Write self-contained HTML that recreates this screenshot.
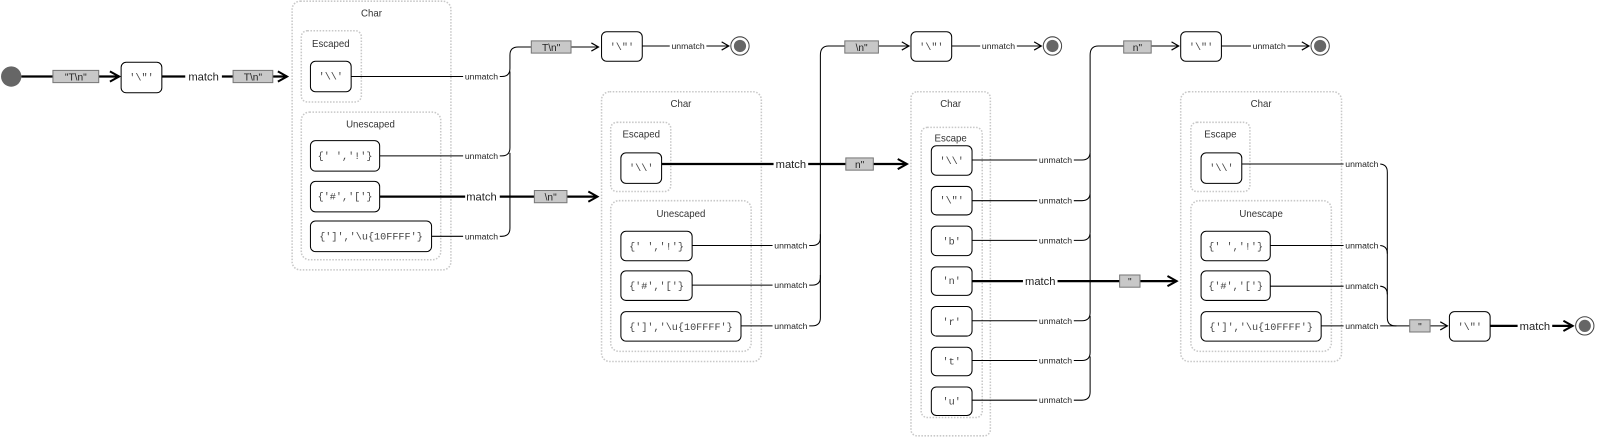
<!DOCTYPE html>
<html><head><meta charset="utf-8"><style>
html,body{margin:0;padding:0;background:#fff;}
svg{display:block;}
.n{fill:#fff;stroke:#000;stroke-width:1;}
.nt{font-family:"Liberation Mono",monospace;font-size:10px;fill:#444;text-anchor:middle;}
.c{fill:none;stroke:#c8c8c8;stroke-width:1.5;stroke-dasharray:1.5,1.5;}
.ct{font-family:"Liberation Sans",sans-serif;font-size:9.5px;fill:#333;text-anchor:middle;}
.t{fill:none;stroke:#000;stroke-width:1;}
.k{fill:none;stroke:#000;stroke-width:2.2;}
.u{font-family:"Liberation Sans",sans-serif;font-size:8.5px;fill:#222;text-anchor:middle;}
.m{font-family:"Liberation Sans",sans-serif;font-size:11px;fill:#222;text-anchor:middle;}
.lb{fill:#c8c8c8;stroke:#777;stroke-width:1;}
.lt{font-family:"Liberation Sans",sans-serif;font-size:10px;fill:#222;text-anchor:middle;}
.w{fill:#fff;}
</style></head><body>
<svg width="1597" height="437" viewBox="0 0 1569 429" xmlns="http://www.w3.org/2000/svg">
<defs>
<marker id="a" markerWidth="10" markerHeight="10" refX="8" refY="5" orient="auto" markerUnits="userSpaceOnUse"><path d="M1,1 L8,5 L1,9" fill="none" stroke="#000" stroke-width="1.2"/></marker>
<marker id="b" markerWidth="12" markerHeight="12" refX="10" refY="6" orient="auto" markerUnits="userSpaceOnUse"><path d="M1,1 L10,6 L1,11" fill="none" stroke="#000" stroke-width="2"/></marker>
</defs>

<!-- containers -->
<rect class="c" x="287" y="1" width="156" height="264" rx="8"/><text class="ct" x="365" y="16">Char</text>
<rect class="c" x="296" y="30" width="59" height="70" rx="6"/><text class="ct" x="325" y="46">Escaped</text>
<rect class="c" x="296" y="110" width="137" height="145" rx="8"/><text class="ct" x="364" y="125">Unescaped</text>

<rect class="c" x="591" y="90" width="157" height="265" rx="8"/><text class="ct" x="669" y="105">Char</text>
<rect class="c" x="600" y="120" width="59" height="68" rx="6"/><text class="ct" x="630" y="135">Escaped</text>
<rect class="c" x="600" y="197" width="138" height="148" rx="8"/><text class="ct" x="669" y="213">Unescaped</text>

<rect class="c" x="895" y="90" width="78" height="338" rx="6"/><text class="ct" x="934" y="105">Char</text>
<rect class="c" x="905" y="125" width="60" height="285" rx="6"/><text class="ct" x="934" y="139">Escape</text>

<rect class="c" x="1160" y="90" width="158" height="265" rx="8"/><text class="ct" x="1239" y="105">Char</text>
<rect class="c" x="1170" y="120" width="58" height="68" rx="6"/><text class="ct" x="1199" y="135">Escape</text>
<rect class="c" x="1170" y="197" width="138" height="148" rx="8"/><text class="ct" x="1239" y="213">Unescape</text>

<!-- start -->
<circle cx="11" cy="75" r="10" fill="#666"/>
<path class="k" d="M21,75 H117" marker-end="url(#b)"/>
<rect class="lb" x="52" y="69" width="45" height="12"/><text class="lt" x="74.5" y="79">"T\n"</text>
<rect class="n" x="119" y="61" width="40" height="30" rx="5"/><text class="nt" x="139" y="79">'\"'</text>
<path class="k" d="M159,75 H282" marker-end="url(#b)"/>
<rect class="w" x="182" y="68" width="36" height="14"/><text class="m" x="200" y="79">match</text>
<rect class="lb" x="229" y="69" width="39" height="12"/><text class="lt" x="248.5" y="79">T\n"</text>

<!-- char1 nodes -->
<rect class="n" x="305" y="60" width="40" height="30" rx="5"/><text class="nt" x="325" y="78">'\\'</text>
<rect class="n" x="305" y="138" width="68" height="30" rx="5"/><text class="nt" x="339" y="156">{' ','!'}</text>
<rect class="n" x="305" y="178" width="68" height="30" rx="5"/><text class="nt" x="339" y="196">{'#','['}</text>
<rect class="n" x="305" y="217" width="119" height="30" rx="5"/><text class="nt" x="364.5" y="235">{']','\u{10FFFF'}</text>

<path class="t" d="M345,75 H493 Q501,75 501,67 V54 Q501,46 509,46 H588" marker-end="url(#a)"/>
<path class="t" d="M373,153 H493 Q501,153 501,145 V70"/>
<path class="t" d="M424,232 H493 Q501,232 501,224 V150"/>
<rect class="w" x="455" y="69" width="36" height="12"/><text class="u" x="473" y="78">unmatch</text>
<rect class="w" x="455" y="147" width="36" height="12"/><text class="u" x="473" y="156">unmatch</text>
<rect class="w" x="455" y="226" width="36" height="12"/><text class="u" x="473" y="235">unmatch</text>
<rect class="lb" x="522" y="40" width="39" height="12"/><text class="lt" x="541.5" y="50">T\n"</text>
<path class="k" d="M373,193 H587" marker-end="url(#b)"/>
<rect class="w" x="457" y="186" width="34" height="14"/><text class="m" x="473" y="197">match</text>
<rect class="lb" x="525" y="187" width="32" height="12"/><text class="lt" x="541" y="197">\n"</text>

<rect class="n" x="591" y="31" width="40" height="29" rx="5"/><text class="nt" x="611" y="49">'\"'</text>
<path class="t" d="M631,45 H716" marker-end="url(#a)"/>
<rect class="w" x="658" y="39" width="36" height="12"/><text class="u" x="676" y="48">unmatch</text>
<circle cx="727" cy="45" r="9" fill="#fff" stroke="#444"/><circle cx="727" cy="45" r="6" fill="#666"/>

<!-- char2 nodes -->
<rect class="n" x="610" y="150" width="40" height="30" rx="5"/><text class="nt" x="630" y="168">'\\'</text>
<rect class="n" x="610" y="227" width="70" height="29" rx="5"/><text class="nt" x="645" y="245">{' ','!'}</text>
<rect class="n" x="610" y="266" width="70" height="29" rx="5"/><text class="nt" x="645" y="284">{'#','['}</text>
<rect class="n" x="610" y="306" width="118" height="29" rx="5"/><text class="nt" x="669" y="324">{']','\u{10FFFF'}</text>

<path class="t" d="M680,241 H798 Q806,241 806,233 V54 Q806,45 814,45 H893" marker-end="url(#a)"/>
<path class="t" d="M680,280 H798 Q806,280 806,272 V230"/>
<path class="t" d="M728,320 H798 Q806,320 806,312 V270"/>
<rect class="w" x="759" y="235" width="36" height="12"/><text class="u" x="777" y="244">unmatch</text>
<rect class="w" x="759" y="274" width="36" height="12"/><text class="u" x="777" y="283">unmatch</text>
<rect class="w" x="759" y="314" width="36" height="12"/><text class="u" x="777" y="323">unmatch</text>
<rect class="lb" x="830" y="40" width="33" height="12"/><text class="lt" x="846.5" y="50">\n"</text>
<path class="k" d="M650,161 H891" marker-end="url(#b)"/>
<rect class="w" x="760" y="154" width="34" height="14"/><text class="m" x="777" y="165">match</text>
<rect class="lb" x="831" y="155" width="27" height="12"/><text class="lt" x="844.5" y="165">n"</text>

<rect class="n" x="895" y="31" width="40" height="29" rx="5"/><text class="nt" x="915" y="49">'\"'</text>
<path class="t" d="M935,45 H1023" marker-end="url(#a)"/>
<rect class="w" x="963" y="39" width="36" height="12"/><text class="u" x="981" y="48">unmatch</text>
<circle cx="1034" cy="45" r="9" fill="#fff" stroke="#444"/><circle cx="1034" cy="45" r="6" fill="#666"/>

<!-- char3 nodes -->
<rect class="n" x="915" y="143" width="40" height="29" rx="5"/><text class="nt" x="935" y="161">'\\'</text>
<rect class="n" x="915" y="183" width="40" height="28" rx="5"/><text class="nt" x="935" y="200">'\"'</text>
<rect class="n" x="915" y="222" width="40" height="29" rx="5"/><text class="nt" x="935" y="240">'b'</text>
<rect class="n" x="915" y="262" width="40" height="28" rx="5"/><text class="nt" x="935" y="279">'n'</text>
<rect class="n" x="915" y="301" width="40" height="29" rx="5"/><text class="nt" x="935" y="319">'r'</text>
<rect class="n" x="915" y="341" width="40" height="28" rx="5"/><text class="nt" x="935" y="358">'t'</text>
<rect class="n" x="915" y="380" width="40" height="28" rx="5"/><text class="nt" x="935" y="397">'u'</text>

<path class="t" d="M955,157 H1063 Q1071,157 1071,149 V54 Q1071,45 1079,45 H1158" marker-end="url(#a)"/>
<path class="t" d="M955,197 H1063 Q1071,197 1071,189 V150"/>
<path class="t" d="M955,236 H1063 Q1071,236 1071,228 V190"/>
<path class="t" d="M955,315 H1063 Q1071,315 1071,307 V230"/>
<path class="t" d="M955,354 H1063 Q1071,354 1071,346 V310"/>
<path class="t" d="M955,393 H1063 Q1071,393 1071,385 V350"/>
<rect class="w" x="1019" y="151" width="36" height="12"/><text class="u" x="1037" y="160">unmatch</text>
<rect class="w" x="1019" y="191" width="36" height="12"/><text class="u" x="1037" y="200">unmatch</text>
<rect class="w" x="1019" y="230" width="36" height="12"/><text class="u" x="1037" y="239">unmatch</text>
<rect class="w" x="1019" y="309" width="36" height="12"/><text class="u" x="1037" y="318">unmatch</text>
<rect class="w" x="1019" y="348" width="36" height="12"/><text class="u" x="1037" y="357">unmatch</text>
<rect class="w" x="1019" y="387" width="36" height="12"/><text class="u" x="1037" y="396">unmatch</text>
<rect class="lb" x="1104" y="40" width="27" height="12"/><text class="lt" x="1117.5" y="50">n"</text>
<path class="k" d="M955,276 H1156" marker-end="url(#b)"/>
<rect class="w" x="1005" y="269" width="34" height="14"/><text class="m" x="1022" y="280">match</text>
<rect class="lb" x="1100" y="270" width="20" height="12"/><text class="lt" x="1110" y="280">"</text>

<rect class="n" x="1160" y="31" width="40" height="29" rx="5"/><text class="nt" x="1180" y="49">'\"'</text>
<path class="t" d="M1200,45 H1286" marker-end="url(#a)"/>
<rect class="w" x="1229" y="39" width="36" height="12"/><text class="u" x="1247" y="48">unmatch</text>
<circle cx="1297" cy="45" r="9" fill="#fff" stroke="#444"/><circle cx="1297" cy="45" r="6" fill="#666"/>

<!-- char4 nodes -->
<rect class="n" x="1180" y="150" width="40" height="30" rx="5"/><text class="nt" x="1200" y="168">'\\'</text>
<rect class="n" x="1180" y="227" width="68" height="29" rx="5"/><text class="nt" x="1214" y="245">{' ','!'}</text>
<rect class="n" x="1180" y="266" width="68" height="29" rx="5"/><text class="nt" x="1214" y="284">{'#','['}</text>
<rect class="n" x="1180" y="306" width="118" height="29" rx="5"/><text class="nt" x="1239" y="324">{']','\u{10FFFF'}</text>

<path class="t" d="M1220,161 H1355 Q1363,161 1363,169 V312 Q1363,320 1371,320 H1422" marker-end="url(#a)"/>
<path class="t" d="M1248,241 H1355 Q1363,241 1363,249"/>
<path class="t" d="M1248,281 H1355 Q1363,281 1363,289"/>
<path class="t" d="M1298,320 H1372"/>
<rect class="w" x="1320" y="155" width="36" height="12"/><text class="u" x="1338" y="164">unmatch</text>
<rect class="w" x="1320" y="235" width="36" height="12"/><text class="u" x="1338" y="244">unmatch</text>
<rect class="w" x="1320" y="275" width="36" height="12"/><text class="u" x="1338" y="284">unmatch</text>
<rect class="w" x="1320" y="314" width="36" height="12"/><text class="u" x="1338" y="323">unmatch</text>
<rect class="lb" x="1385" y="314" width="20" height="12"/><text class="lt" x="1395" y="324">"</text>

<rect class="n" x="1424" y="306" width="40" height="29" rx="5"/><text class="nt" x="1444" y="324">'\"'</text>
<path class="k" d="M1464,320 H1545" marker-end="url(#b)"/>
<rect class="w" x="1491" y="313" width="34" height="14"/><text class="m" x="1508" y="324">match</text>
<circle cx="1557" cy="320" r="9" fill="#fff" stroke="#444"/><circle cx="1557" cy="320" r="6" fill="#666"/>
</svg>
</body></html>
